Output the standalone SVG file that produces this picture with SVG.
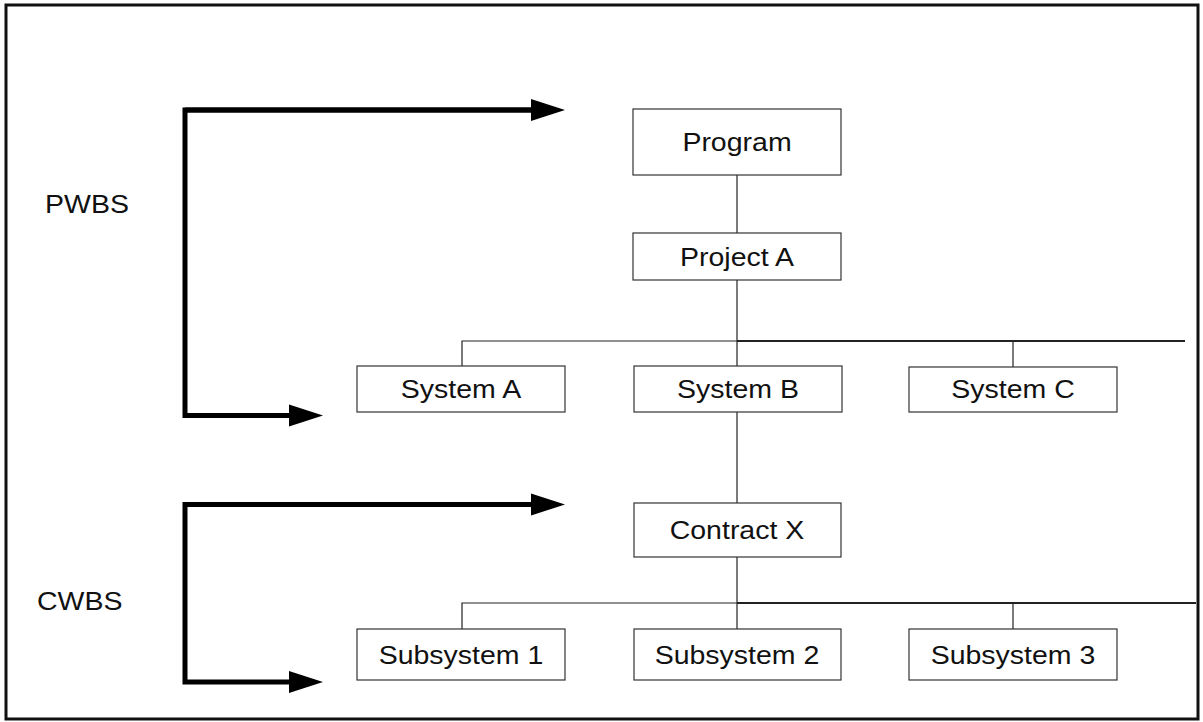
<svg xmlns="http://www.w3.org/2000/svg" width="1203" height="722" viewBox="0 0 1203 722">
  <defs>
    <style>
      .frame { fill: none; stroke: #111; stroke-width: 3; }
      .box { fill: #fff; stroke: #333; stroke-width: 1.2; }
      .label { font-family: "Liberation Sans", Arial, sans-serif; font-size: 25px; fill: #111; text-anchor: middle; }
      .side { font-family: "Liberation Sans", Arial, sans-serif; font-size: 25px; fill: #111; }
      .link { fill: none; stroke: #222; stroke-width: 1.2; }
      .link-heavy { fill: none; stroke: #222; stroke-width: 2; }
      .bracket { fill: none; stroke: #000; stroke-width: 5; stroke-linejoin: miter; }
    </style>
    <marker id="head" markerUnits="userSpaceOnUse" markerWidth="34" markerHeight="24" refX="0" refY="12" orient="auto">
      <path d="M0,1 L34,12 L0,23 Z" fill="#000"/>
    </marker>
  </defs>

  <rect width="1203" height="722" fill="#fff"/>
  <rect class="frame" x="6" y="5" width="1192" height="714"/>

  <!-- level brackets; labels are drawn slightly wide (scale 1.14 on x) -->
  <g id="pwbs">
    <path class="bracket" d="M531,110 H185 V415.5 H289" marker-end="url(#head)"/>
    <path class="bracket" d="M185,110 H531" marker-end="url(#head)"/>
    <text class="side" transform="translate(45,213) scale(1.14,1)">PWBS</text>
  </g>
  <g id="cwbs">
    <path class="bracket" d="M531,504.5 H185 V682 H289" marker-end="url(#head)"/>
    <path class="bracket" d="M185,504.5 H531" marker-end="url(#head)"/>
    <text class="side" transform="translate(37,610) scale(1.14,1)">CWBS</text>
  </g>

  <!-- tree connectors -->
  <g id="connectors">
    <path class="link" d="M737,175 V233"/>
    <path class="link" d="M737,280 V366"/>
    <path class="link" d="M462,366 V341 H737"/>
    <path class="link-heavy" d="M737,341 H1185"/>
    <path class="link" d="M1013,341 V367"/>
    <path class="link" d="M737,412 V503"/>
    <path class="link" d="M737,557 V629"/>
    <path class="link" d="M462,629 V603 H737"/>
    <path class="link-heavy" d="M737,603 H1196"/>
    <path class="link" d="M1013,603 V629"/>
  </g>

  <g id="program">
    <rect class="box" x="633" y="109" width="208" height="66"/>
    <text class="label" transform="translate(737,151) scale(1.14,1)">Program</text>
  </g>
  <g id="project-a">
    <rect class="box" x="633" y="233" width="208" height="47"/>
    <text class="label" transform="translate(737,265.5) scale(1.14,1)">Project A</text>
  </g>
  <g id="system-a">
    <rect class="box" x="357" y="366" width="208" height="46"/>
    <text class="label" transform="translate(461,398) scale(1.14,1)">System A</text>
  </g>
  <g id="system-b">
    <rect class="box" x="634" y="366" width="208" height="46"/>
    <text class="label" transform="translate(738,398) scale(1.14,1)">System B</text>
  </g>
  <g id="system-c">
    <rect class="box" x="909" y="367" width="208" height="45"/>
    <text class="label" transform="translate(1013,398) scale(1.14,1)">System C</text>
  </g>
  <g id="contract-x">
    <rect class="box" x="634" y="503" width="207" height="54"/>
    <text class="label" transform="translate(737,539) scale(1.14,1)">Contract X</text>
  </g>
  <g id="subsystem-1">
    <rect class="box" x="357" y="629" width="208" height="51"/>
    <text class="label" transform="translate(461,663.5) scale(1.14,1)">Subsystem 1</text>
  </g>
  <g id="subsystem-2">
    <rect class="box" x="634" y="629" width="207" height="51"/>
    <text class="label" transform="translate(737,663.5) scale(1.14,1)">Subsystem 2</text>
  </g>
  <g id="subsystem-3">
    <rect class="box" x="909" y="629" width="208" height="51"/>
    <text class="label" transform="translate(1013,663.5) scale(1.14,1)">Subsystem 3</text>
  </g>
</svg>
